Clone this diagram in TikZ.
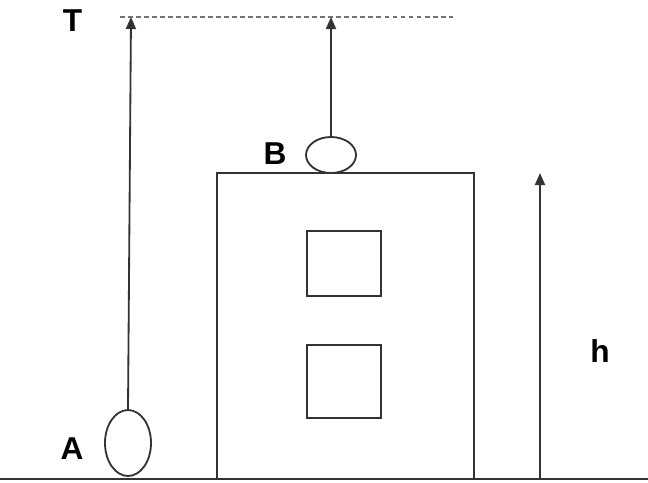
\documentclass[tikz,border=0pt]{standalone}
\usepackage{fontspec}
\setmainfont{Liberation Sans}
\usetikzlibrary{shapes, arrows.meta}

\begin{document}
\begin{tikzpicture}[x=0.025cm, y=-0.025cm,
    line width=1.3pt, draw=black!80,
    lbl/.style={font=\fontsize{22.5}{26}\selectfont\bfseries},
    ball/.style={ellipse, draw, inner sep=0pt},
    box/.style={rectangle, draw, inner sep=0pt},
    up/.style={-{Triangle[width=0.25cm, length=0.3cm]}}]
    \useasboundingbox (0,0) rectangle (648,482);
    % ground and top level
    \coordinate (G0) at (0,479);
    \coordinate (G1) at (648,479);
    \coordinate (T0) at (120,17);
    \coordinate (T1) at (453,17);
    \draw (G0) -- (G1);
    \draw[black!55, line width=1.3pt, dash pattern=on 3.5pt off 2.2pt] (T0) -- (T1);
    % building
    \node (house) [box, minimum width=6.425cm, minimum height=7.65cm] at (345.5,326) {};
    \node (win1) [box, minimum width=1.85cm, minimum height=1.625cm] at (344,263.5) {};
    \node (win2) [box, minimum width=1.85cm, minimum height=1.825cm] at (344,381.5) {};
    % balls
    \node (A) [ball, minimum width=1.15cm, minimum height=1.65cm] at (128,443) {};
    \node (B) [ball, minimum width=1.25cm, minimum height=0.9cm] at (331,155) {};
    \coordinate (TA) at (131,17);
    \coordinate (TB) at (331,17);
    \draw[up] (A.north) -- (TA);
    \draw[up] (B.north) -- (TB);
    % height
    \coordinate (h0) at (540,479);
    \coordinate (h1) at (540,173);
    \draw[up] (h0) -- (h1);
    % labels
    \node (lT) [lbl] at (72.5,21) {T};
    \node (lB) [lbl] at (275,154) {B};
    \node (lA) [lbl] at (72,449) {A};
    \node (lh) [lbl] at (600,351) {h};
\end{tikzpicture}
\end{document}
